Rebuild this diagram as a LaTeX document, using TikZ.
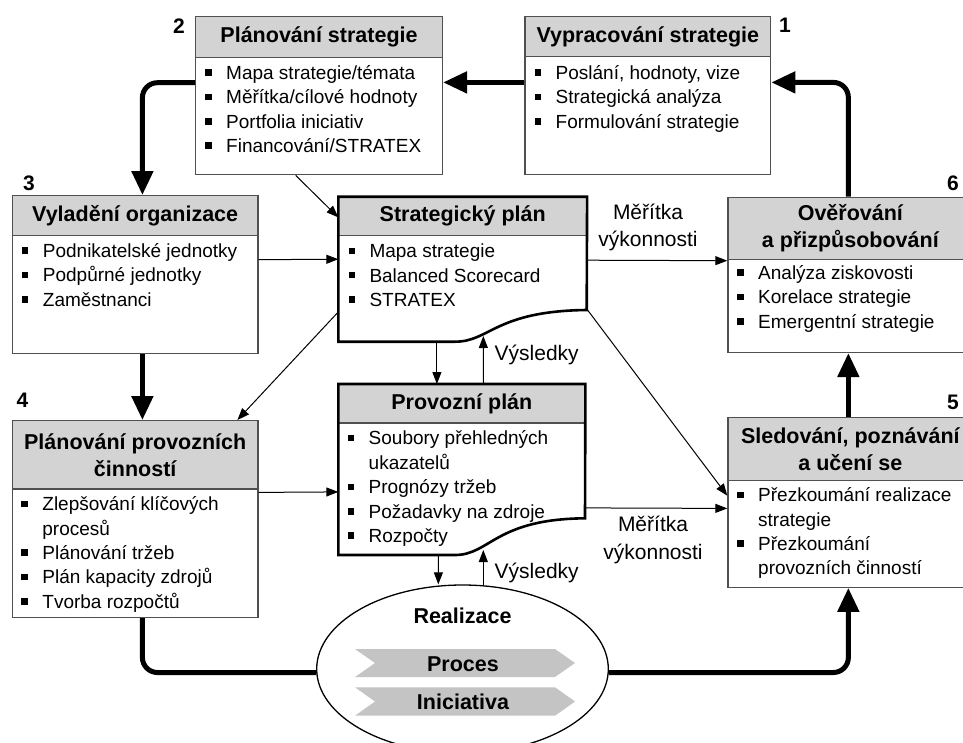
\documentclass[tikz,border=0pt]{standalone}
\usepackage{fontspec}
\setmainfont{Liberation Sans}
\usetikzlibrary{arrows.meta,shapes.geometric,calc}
\definecolor{hdrgray}{RGB}{211,211,211}
\definecolor{chevgray}{RGB}{196,196,196}
\definecolor{bordergray}{RGB}{80,80,80}
\newcommand{\bsq}{\rule[3.6pt]{6.5pt}{6.5pt}}
\newcommand{\itemlist}[1]{\begin{tabular}{@{}l@{\hspace{14.5pt}}l@{}}#1\end{tabular}}
\tikzset{
  boxframe/.style={draw=bordergray, line width=1.4pt, fill=white, inner sep=0pt, anchor=north west},
  hdr/.style={draw=bordergray, line width=1.4pt, fill=hdrgray, inner sep=0pt, anchor=north west, align=center, font=\fontsize{21.5}{27}\selectfont\bfseries},
  dochdr/.style={fill=hdrgray, inner sep=0pt, anchor=north west, align=center, font=\fontsize{21.5}{27}\selectfont\bfseries},
  docarea/.style={inner sep=0pt, anchor=north west},
  items/.style={inner sep=0pt, anchor=north west, font=\fontsize{19}{24.4}\selectfont},
  heavy/.style={line width=5pt, rounded corners=15pt, -{Triangle[length=24pt,width=21pt]}},
  heavyline/.style={line width=5pt, rounded corners=15pt},
  conn/.style={line width=1pt, -{Triangle[length=12pt,width=9pt]}},
  lbl/.style={font=\fontsize{21}{27.5}\selectfont, align=center, inner sep=0pt},
  num/.style={font=\fontsize{21}{24}\selectfont\bfseries, inner sep=0pt},
  docline/.style={draw=black, line width=2.6pt, line join=miter},
  divider/.style={draw=bordergray, line width=1.4pt},
  chev/.style={fill=chevgray},
  chevtext/.style={font=\fontsize{21.5}{24}\selectfont\bfseries, inner sep=0pt},
}
\begin{document}
\begin{tikzpicture}[x=1pt,y=-1pt]
\useasboundingbox (0,0) rectangle (963,742);
\fill[white] (0,0) rectangle (963,742);
\clip (0,0) rectangle (963,742);

% ---------- Box 1 ----------
\node[boxframe, minimum width=245.7pt, minimum height=158pt] (b1) at (524.3,16) {};
\node[hdr, minimum width=245.7pt, minimum height=40pt] (b1h) at (524.3,16) {Vypracování strategie};
\node[items] (b1i) at (534.5,62.1) {\itemlist{\bsq & Poslání, hodnoty, vize\\ \bsq & Strategická analýza\\ \bsq & Formulování strategie}};
\node[num] (n1) at (785,25) {1};

% ---------- Box 2 ----------
\node[boxframe, minimum width=246.7pt, minimum height=158pt] (b2) at (195,16) {};
\node[hdr, minimum width=246.7pt, minimum height=40.7pt] (b2h) at (195,16) {Plánování strategie};
\node[items] (b2i) at (205,62.1) {\itemlist{\bsq & Mapa strategie/témata\\ \bsq & Měřítka/cílové hodnoty\\ \bsq & Portfolia iniciativ\\ \bsq & Financování/STRATEX}};
\node[num] (n2) at (179,26) {2};

% ---------- Box 3 ----------
\node[boxframe, minimum width=245.6pt, minimum height=157.7pt] (b3) at (11.7,195) {};
\node[hdr, minimum width=245.6pt, minimum height=40pt] (b3h) at (11.7,195) {Vyladění organizace};
\node[items] (b3i) at (21.7,240.1) {\itemlist{\bsq & Podnikatelské jednotky\\ \bsq & Podpůrné jednotky\\ \bsq & Zaměstnanci}};
\node[num] (n3) at (29,183) {3};

% ---------- Box 4 ----------
\node[boxframe, minimum width=245.6pt, minimum height=196.7pt] (b4) at (11.7,420) {};
\node[hdr, minimum width=245.6pt, minimum height=68.3pt] (b4h) at (11.7,420) {Plánování provozních\\činností};
\node[items] (b4i) at (21.2,493.4) {\itemlist{\bsq & Zlepšování klíčových\\ & procesů\\ \bsq & Plánování tržeb\\ \bsq & Plán kapacity zdrojů\\ \bsq & Tvorba rozpočtů}};
\node[num] (n4) at (22.5,400) {4};

% ---------- Box 5 ----------
\node[boxframe, minimum width=244.7pt, minimum height=169.8pt] (b5) at (727.3,416.7) {};
\node[hdr, minimum width=244.7pt, minimum height=62.8pt] (b5h) at (727.3,416.7) {Sledování, poznávání\\a učení se};
\node[items] (b5i) at (737,484.4) {\itemlist{\bsq & Přezkoumání realizace\\ & strategie\\ \bsq & Přezkoumání\\ & provozních činností}};
\node[num] (n5) at (953,402) {5};

% ---------- Box 6 ----------
\node[boxframe, minimum width=244.7pt, minimum height=155pt] (b6) at (727.3,196.7) {};
\node[hdr, minimum width=244.7pt, minimum height=62.3pt] (b6h) at (727.3,196.7) {Ověřování\\a přizpůsobování};
\node[items] (b6i) at (737,262.1) {\itemlist{\bsq & Analýza ziskovosti\\ \bsq & Korelace strategie\\ \bsq & Emergentní strategie}};
\node[num] (n6) at (953,183) {6};

% ---------- Strategický plán ----------
\node[docarea, minimum width=248.4pt, minimum height=145pt] (sp) at (338.3,196.7) {};
\node[dochdr, minimum width=248.4pt, minimum height=38.3pt] (sph) at (338.3,196.7) {Strategický plán};
\draw[divider] (sph.south west) -- (sph.south east);
\draw[docline] (sp.north west) -- (338.3,341.7) -- (455,341.7) .. controls (490,341.7) and (495,311) .. (586.7,310) -- (sp.north east) -- cycle;
\node[items] (spi) at (348.3,240.4) {\itemlist{\bsq & Mapa strategie\\ \bsq & Balanced Scorecard\\ \bsq & STRATEX}};
\coordinate (spw) at (483.3,336);

% ---------- Provozní plán ----------
\node[docarea, minimum width=246.7pt, minimum height=171pt] (pp) at (338.3,384) {};
\node[dochdr, minimum width=246.7pt, minimum height=38.7pt] (pph) at (338.3,384) {Provozní plán};
\draw[divider] (pph.south west) -- (pph.south east);
\draw[docline] (pp.north west) -- (338.3,555) -- (455,555) .. controls (490,555) and (495,519) .. (585,518.3) -- (pp.north east) -- cycle;
\node[items] (ppi) at (347.5,427.7) {\itemlist{\bsq & Soubory přehledných\\ & ukazatelů\\ \bsq & Prognózy tržeb\\ \bsq & Požadavky na zdroje\\ \bsq & Rozpočty}};
\coordinate (ppw) at (483.3,550);

% ---------- Realizace ----------
\node[draw=black, line width=1.3pt, ellipse, fill=white, inner sep=0pt, minimum width=291.6pt, minimum height=168pt] (el) at (462.5,669) {};
\node[chevtext] (rl) at (462.5,616) {Realizace};
\fill[chev] (355,649) -- (555,649) -- (575,663) -- (555,677) -- (355,677) -- (375,663) -- cycle;
\fill[chev] (355,687.3) -- (555,687.3) -- (575,701.5) -- (555,715.7) -- (355,715.7) -- (375,701.5) -- cycle;
\node[chevtext] (pr) at (463,664) {Proces};
\node[chevtext] (in) at (463,702) {Iniciativa};

% ---------- heavy cycle ----------
\draw[heavy] ([xshift=-2pt]b6.north) |- ([yshift=13.3pt]b1.east);
\draw[heavy] ([yshift=13.3pt]b1.west) -- ([yshift=13.3pt]b2.east);
\draw[heavy] ([yshift=13pt]b2.west) -| ([xshift=7.2pt]b3.north);
\draw[heavy] ([xshift=7.2pt]b3.south) -- ([xshift=7.2pt]b4.north);
\draw[heavyline] ([xshift=7.2pt]b4.south) |- ([yshift=-3.5pt]el.west);
\draw[heavy] ([yshift=-3.5pt]el.east) -| ([xshift=-2pt]b5.south);
\draw[heavy] ([xshift=-2pt]b5.north) -- ([xshift=-2pt]b6.south);

% ---------- thin connectors ----------
\draw[conn] ([xshift=-23.35pt]b2.south) -- ([yshift=52pt]sp.west);
\draw[conn] ([yshift=14.85pt]b3.east) -- ([yshift=10.2pt]sp.west);
\draw[conn] ([yshift=-42.5pt]sp.west) -- ([xshift=102.2pt]b4.north);
\draw[conn] ([yshift=9.2pt]sp.east) -- ([yshift=14.2pt]b6.west);
\draw[conn] ([yshift=-40pt]sp.east) -- ([yshift=6.6pt]b5.west);
\draw[conn] ([yshift=-38.2pt]pp.east) -- ([yshift=-6.1pt]b5.west);
\draw[conn] ([yshift=26.65pt]b4.east) -- ([yshift=-22.2pt]pp.west);
\draw[conn] ([xshift=-25.8pt]sp.south) -- ([xshift=-24.95pt]pp.north);
\draw[conn] ([xshift=21.65pt]pp.north) -- (spw);
\draw[conn] ([xshift=-23.35pt]pp.south) -- ([xshift=-24.2pt]el.north);
\draw[conn] ([xshift=20.8pt,yshift=-1pt]el.north) -- (ppw);

% ---------- labels ----------
\node[lbl] (m1) at (648,227.5) {Měřítka\\výkonnosti};
\node[lbl] (m2) at (653,540) {Měřítka\\výkonnosti};
\node[lbl] (v1) at (536.7,355) {Výsledky};
\node[lbl] (v2) at (536.7,573.3) {Výsledky};
\end{tikzpicture}
\end{document}
